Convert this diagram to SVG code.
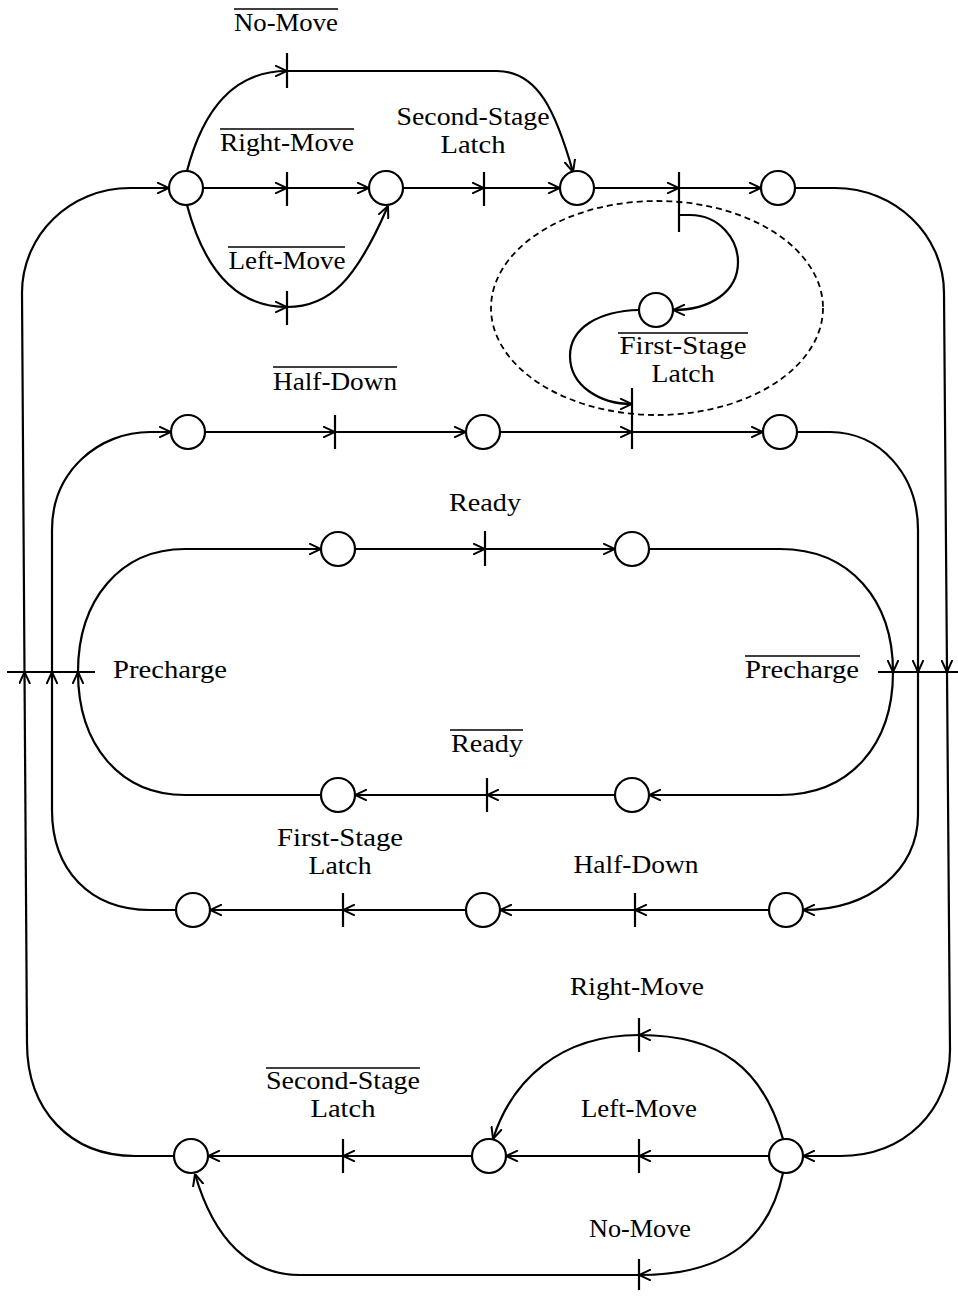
<svg xmlns="http://www.w3.org/2000/svg" width="958" height="1296" viewBox="0 0 958 1296">
<style>
.p{fill:#fff;stroke:#000;stroke-width:2.2}
.t{stroke:#000;stroke-width:2.2;fill:none}
.c{fill:none;stroke:#000;stroke-width:2.2}
.a{fill:none;stroke:#000;stroke-width:2.2;marker-end:url(#ar)}
.o{stroke:#000;stroke-width:1.6}
text{font-family:"Liberation Serif","Times New Roman",serif;font-size:25px;fill:#000;text-anchor:middle}
</style>
<defs>
<marker id="ar" viewBox="0 0 12 12" refX="12" refY="6" markerWidth="12" markerHeight="12" markerUnits="userSpaceOnUse" orient="auto">
<path d="M0,0.5 L12,6 L0,11.5" fill="none" stroke="#000" stroke-width="2"/>
</marker>
</defs>
<rect width="958" height="1296" fill="#fff"/>

<g id="connectors">
<path class="c" d="M174,1156 L135,1156 C70,1156 27,1110 27,1043"/>
<path class="a" d="M27,1043 L24.5,672"/>
<path class="a" d="M24.5,672 L22,293 C22,235 70,188 130,188 L169,188"/>
<path class="a" d="M203,188 L287,188"/>
<path class="a" d="M287,188 L369,188"/>
<path class="a" d="M403,188 L484,188"/>
<path class="a" d="M484,188 L560,188"/>
<path class="a" d="M594,188 L679,188"/>
<path class="a" d="M679,188 L761,188"/>
<path class="a" d="M187,171 C203,110 233,71 287,71"/>
<path class="a" d="M287,71 L497,71 C538,71 556,112 573,172"/>
<path class="a" d="M187,205 C203,265 233,307 287,307"/>
<path class="a" d="M287,307 C330,307 356,280 388,206"/>
<path class="a" d="M795,188 L835,188 C895,188 944,235 944,293 L947,672"/>
<path class="a" d="M947,672 L950,1050 C950,1110 905,1156 840,1156 L803,1156"/>
<path class="a" d="M679,215 L690,215 C720,215 738,240 738,262 C738,292 710,310 673,310"/>
<path class="a" d="M639,310 C600,311 570,327 570,356 C570,386 600,404 632,404"/>
<path class="a" d="M205,432 L335,432"/>
<path class="a" d="M335,432 L466,432"/>
<path class="a" d="M500,432 L632,432"/>
<path class="a" d="M632,432 L763,432"/>
<path class="a" d="M797,432 L830,432 C880,432 918,475 918,530 L918,672"/>
<path class="a" d="M918,672 L918,815 C918,870 870,910 803,910"/>
<path class="a" d="M769,910 L635,910"/>
<path class="a" d="M635,910 L500,910"/>
<path class="a" d="M466,910 L343,910"/>
<path class="a" d="M343,910 L210,910"/>
<path class="a" d="M176,910 L150,910 C90,910 52,870 52,810 L52,672"/>
<path class="a" d="M52,672 L52,530 C52,470 100,432 150,432 L171,432"/>
<path class="a" d="M78,672 C78,600 120,549 185,549 L321,549"/>
<path class="a" d="M355,549 L485,549"/>
<path class="a" d="M485,549 L615,549"/>
<path class="a" d="M649,549 L780,549 C850,549 893,600 893,672"/>
<path class="a" d="M893,672 C893,745 850,795 780,795 L649,795"/>
<path class="a" d="M615,795 L487,795"/>
<path class="a" d="M487,795 L355,795"/>
<path class="a" d="M321,795 L185,795 C120,795 78,745 78,672"/>
<path class="a" d="M769,1156 L639,1156"/>
<path class="a" d="M639,1156 L506,1156"/>
<path class="a" d="M472,1156 L343,1156"/>
<path class="a" d="M343,1156 L208,1156"/>
<path class="a" d="M783,1139 C763,1070 722,1035 639,1035"/>
<path class="a" d="M639,1035 C560,1035 512,1080 493,1139"/>
<path class="a" d="M783,1173 C770,1235 730,1275 639,1275"/>
<path class="a" d="M639,1275 L300,1275 C250,1275 214,1240 195,1174"/>
</g>

<g id="boundary">
<ellipse cx="657" cy="308" rx="166" ry="107" fill="none" stroke="#000" stroke-width="1.8" stroke-dasharray="6,4"/>
</g>

<g id="places">
<circle id="P1" class="p" cx="186" cy="188" r="17"/>
<circle id="P2" class="p" cx="386" cy="188" r="17"/>
<circle id="P3" class="p" cx="577" cy="188" r="17"/>
<circle id="P4" class="p" cx="778" cy="188" r="17"/>
<circle id="PE" class="p" cx="656" cy="310" r="17"/>
<circle id="Q1" class="p" cx="188" cy="432" r="17"/>
<circle id="Q2" class="p" cx="483" cy="432" r="17"/>
<circle id="Q3" class="p" cx="780" cy="432" r="17"/>
<circle id="T1" class="p" cx="338" cy="549" r="17"/>
<circle id="T2" class="p" cx="632" cy="549" r="17"/>
<circle id="B1" class="p" cx="338" cy="795" r="17"/>
<circle id="B2" class="p" cx="632" cy="795" r="17"/>
<circle id="R3" class="p" cx="193" cy="910" r="17"/>
<circle id="R2" class="p" cx="483" cy="910" r="17"/>
<circle id="R1" class="p" cx="786" cy="910" r="17"/>
<circle id="S1" class="p" cx="191" cy="1156" r="17"/>
<circle id="S2" class="p" cx="489" cy="1156" r="17"/>
<circle id="S3" class="p" cx="786" cy="1156" r="17"/>
</g>

<g id="transitions">
<line id="tNoMoveBar" class="t" x1="287" y1="53" x2="287" y2="88"/>
<line id="tRightMoveBar" class="t" x1="287" y1="172" x2="287" y2="206"/>
<line id="tLeftMoveBar" class="t" x1="287" y1="291" x2="287" y2="325"/>
<line id="tSSLatch" class="t" x1="484" y1="172" x2="484" y2="206"/>
<line id="tFSLatchBarA" class="t" x1="679" y1="172" x2="679" y2="232"/>
<line id="tHalfDownBar" class="t" x1="335" y1="415" x2="335" y2="449"/>
<line id="tFSLatchB" class="t" x1="632" y1="388" x2="632" y2="449"/>
<line id="tReady" class="t" x1="485" y1="531" x2="485" y2="566"/>
<line id="tReadyBar" class="t" x1="487" y1="778" x2="487" y2="812"/>
<line id="tHalfDown" class="t" x1="635" y1="893" x2="635" y2="927"/>
<line id="tFSLatch" class="t" x1="343" y1="893" x2="343" y2="927"/>
<line id="tRightMove" class="t" x1="639" y1="1018" x2="639" y2="1052"/>
<line id="tLeftMove" class="t" x1="639" y1="1139" x2="639" y2="1173"/>
<line id="tSSLatchBar" class="t" x1="343" y1="1139" x2="343" y2="1173"/>
<line id="tNoMove" class="t" x1="639" y1="1259" x2="639" y2="1290"/>
<line id="tPrechargeL" class="t" x1="7" y1="672" x2="95" y2="672"/>
<line id="tPrechargeR" class="t" x1="878" y1="672" x2="958" y2="672"/>
</g>

<g id="labels">
<text x="286" y="31" textLength="104" lengthAdjust="spacingAndGlyphs">No-Move</text>
<line class="o" x1="234" y1="9" x2="338" y2="9"/>
<text x="287" y="151" textLength="134" lengthAdjust="spacingAndGlyphs">Right-Move</text>
<line class="o" x1="220" y1="129" x2="354" y2="129"/>
<text x="287" y="269" textLength="117" lengthAdjust="spacingAndGlyphs">Left-Move</text>
<line class="o" x1="228" y1="247" x2="345" y2="247"/>
<text x="473" y="125" textLength="153" lengthAdjust="spacingAndGlyphs">Second-Stage</text>
<text x="473" y="153" textLength="65" lengthAdjust="spacingAndGlyphs">Latch</text>
<text x="683" y="354" textLength="127" lengthAdjust="spacingAndGlyphs">First-Stage</text>
<text x="683" y="382" textLength="63" lengthAdjust="spacingAndGlyphs">Latch</text>
<line class="o" x1="618" y1="333" x2="748" y2="333"/>
<text x="335" y="390" textLength="124" lengthAdjust="spacingAndGlyphs">Half-Down</text>
<line class="o" x1="273" y1="367" x2="397" y2="367"/>
<text x="485" y="511" textLength="72" lengthAdjust="spacingAndGlyphs">Ready</text>
<text x="170" y="678" textLength="114" lengthAdjust="spacingAndGlyphs">Precharge</text>
<text x="802" y="678" textLength="114" lengthAdjust="spacingAndGlyphs">Precharge</text>
<line class="o" x1="745" y1="656" x2="860" y2="656"/>
<text x="487" y="752" textLength="72" lengthAdjust="spacingAndGlyphs">Ready</text>
<line class="o" x1="450" y1="730" x2="523" y2="730"/>
<text x="340" y="846" textLength="126" lengthAdjust="spacingAndGlyphs">First-Stage</text>
<text x="340" y="874" textLength="63" lengthAdjust="spacingAndGlyphs">Latch</text>
<text x="636" y="873" textLength="125" lengthAdjust="spacingAndGlyphs">Half-Down</text>
<text x="637" y="995" textLength="134" lengthAdjust="spacingAndGlyphs">Right-Move</text>
<text x="343" y="1089" textLength="154" lengthAdjust="spacingAndGlyphs">Second-Stage</text>
<text x="343" y="1117" textLength="65" lengthAdjust="spacingAndGlyphs">Latch</text>
<line class="o" x1="266" y1="1068" x2="420" y2="1068"/>
<text x="639" y="1117" textLength="116" lengthAdjust="spacingAndGlyphs">Left-Move</text>
<text x="640" y="1237" textLength="102" lengthAdjust="spacingAndGlyphs">No-Move</text>
</g>
</svg>
